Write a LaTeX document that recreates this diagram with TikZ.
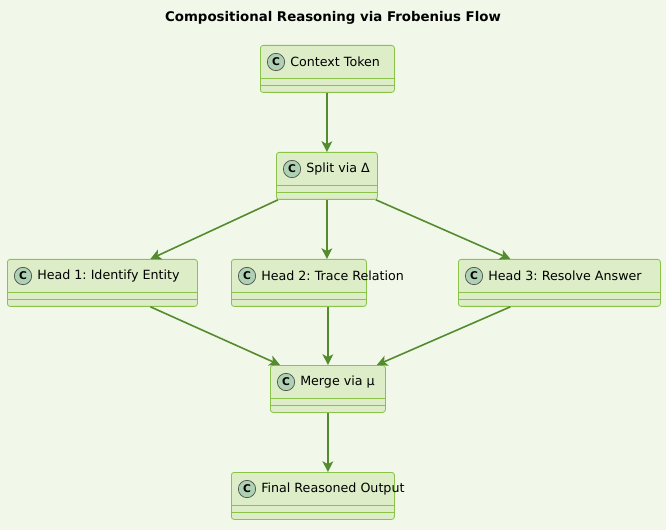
\documentclass[tikz,border=0pt]{standalone}
\usepackage{fontspec}
\setmainfont{DejaVu Sans}
\usetikzlibrary{arrows.meta,positioning,calc}
\frenchspacing

\definecolor{bgcol}{HTML}{F1F8E9}
\definecolor{boxfill}{HTML}{DCEDC8}
\definecolor{boxline}{HTML}{8BC34A}
\definecolor{arrowcol}{HTML}{558B2F}
\definecolor{iconfill}{HTML}{ADD1B2}

\tikzset{
  umlbox/.style={draw=boxline, fill=boxfill, rounded corners=2pt, line width=0.6pt,
    anchor=north west, minimum height=35.25pt, inner sep=0pt},
  flow/.style={draw=arrowcol, line width=1.2pt, -{Stealth[length=8pt,width=8pt,inset=2pt]}},
  icon/.style={circle, draw=black!70, fill=iconfill, line width=0.5pt, minimum size=13pt,
    inner sep=0pt, font=\bfseries\fontsize{8}{8}\selectfont}
}

% name, left, top, width, text
\newcommand{\umlclass}[5]{
  \node[umlbox, minimum width=#4*0.75pt] (#1) at (#2,#3) {};
  \draw[boxline, line width=0.6pt] ($(#1.north west)+(0,33)$) -- ($(#1.north east)+(0,33)$);
  \draw[boxline, line width=0.6pt] ($(#1.north west)+(0,40)$) -- ($(#1.north east)+(0,40)$);
  \node[icon] (#1-c) at ($(#1.north west)+(16,17)$) {C};
  \node[anchor=west, inner sep=0pt, font=\fontsize{9.5}{11}\selectfont] (#1-t) at ($(#1-c.east)+(5,0)$) {#5};
}

\begin{document}
\begin{tikzpicture}[x=0.75pt, y=-0.75pt]
  \fill[bgcol] (0,0) rectangle (666,530);
  \useasboundingbox (0,0) rectangle (666,530);

  \node[font=\bfseries\fontsize{10}{12}\selectfont] (title) at (333,18) {Compositional Reasoning via Frobenius Flow};

  \umlclass{ctx}{260}{45}{134}{Context Token}
  \umlclass{split}{276}{152}{101}{Split via Δ}
  \umlclass{hone}{7}{259}{190}{Head 1: Identify Entity}
  \umlclass{htwo}{231}{259}{135}{Head 2: Trace Relation}
  \umlclass{hthree}{458}{259}{202}{Head 3: Resolve Answer}
  \umlclass{merge}{270}{365}{115}{Merge via μ}
  \umlclass{final}{231}{472}{163}{Final Reasoned Output}

  \draw[flow] (ctx.south -| split.north) -- (split.north);
  \draw[flow] ($(split.south west)+(2,0)$) -- ($(hone.north)+(48,0)$);
  \draw[flow] (split.south) -- (split.south |- htwo.north);
  \draw[flow] ($(split.south east)+(-2,0)$) -- ($(hthree.north)+(-49,0)$);
  \draw[flow] ($(hone.south)+(48,0)$) -- ($(merge.north west)+(10,0)$);
  \draw[flow] (merge.north |- htwo.south) -- (merge.north);
  \draw[flow] ($(hthree.south)+(-49,0)$) -- ($(merge.north east)+(-9,0)$);
  \draw[flow] (merge.south) -- (merge.south |- final.north);
\end{tikzpicture}
\end{document}
